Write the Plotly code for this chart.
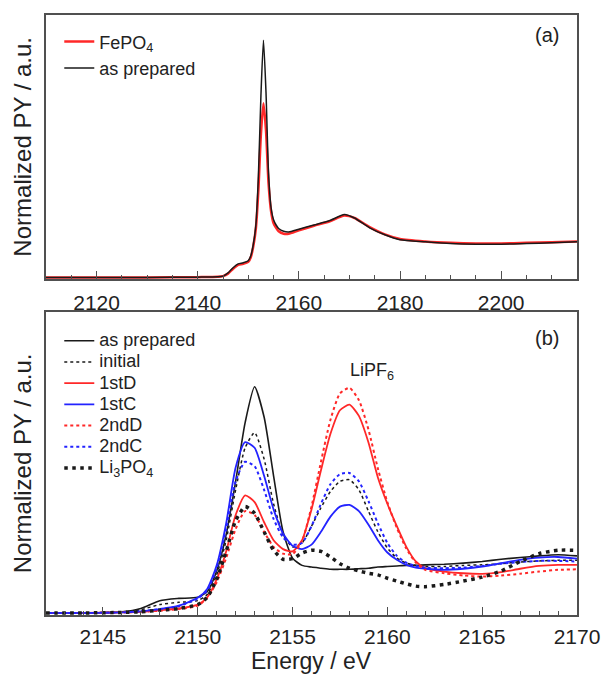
import plotly.graph_objects as go

# ---------------- Panel (a) data ----------------
energy_a = [2110, 2120, 2130, 2140, 2144, 2145, 2146, 2147, 2148, 2149, 2150, 2150.5,
            2151, 2151.5, 2152, 2152.5, 2153, 2153.5, 2154, 2154.5, 2155, 2155.5, 2156,
            2157, 2158, 2160, 2163, 2166, 2169, 2171, 2174, 2177, 2180, 2185, 2190, 2195,
            2200, 2205, 2210, 2215]
fepo4_a = [0.0, 0.0, 0.0, 0.01, 0.02, 0.04, 0.11, 0.25, 0.36, 0.39, 0.45, 0.58,
           0.90, 1.40, 2.50, 4.10, 4.98, 4.20, 2.70, 1.90, 1.55, 1.42, 1.32,
           1.25, 1.25, 1.35, 1.48, 1.60, 1.77, 1.70, 1.44, 1.23, 1.10, 1.03, 0.99, 0.97,
           0.97, 0.99, 1.01, 1.03]
prepared_a = [0.0, 0.0, 0.0, 0.01, 0.02, 0.04, 0.13, 0.28, 0.39, 0.42, 0.48, 0.62,
              0.95, 1.50, 2.90, 5.20, 6.78, 5.30, 3.00, 2.00, 1.65, 1.50, 1.40,
              1.32, 1.30, 1.38, 1.50, 1.62, 1.80, 1.70, 1.42, 1.22, 1.08, 1.02, 0.97, 0.95,
              0.95, 0.97, 0.99, 1.02]

# ---------------- Panel (b) data ----------------
energy_b = [2142, 2144, 2146, 2147, 2148, 2149, 2150, 2150.5, 2151, 2151.5, 2152, 2152.5,
            2153, 2153.5, 2154, 2154.5, 2155, 2155.5, 2156, 2156.5, 2157, 2157.5, 2158,
            2158.5, 2159, 2159.5, 2160, 2160.5, 2161, 2161.5, 2162, 2163, 2164, 2165,
            2166, 2167, 2168, 2169, 2170]
as_prepared = [0.0, 0.0, 0.02, 0.08, 0.22, 0.26, 0.28, 0.38, 0.75, 1.40, 2.35, 3.40,
               4.04, 3.50, 2.45, 1.45, 0.98, 0.85, 0.82, 0.80, 0.78, 0.78, 0.78,
               0.79, 0.80, 0.82, 0.83, 0.84, 0.85, 0.85, 0.86, 0.87, 0.89, 0.92,
               0.96, 0.99, 1.02, 1.04, 1.02]
initial = [0.0, 0.0, 0.02, 0.06, 0.15, 0.19, 0.22, 0.33, 0.68, 1.30, 2.20, 2.95,
           3.22, 2.75, 1.95, 1.40, 1.18, 1.25, 1.55, 1.88, 2.17, 2.35, 2.38,
           2.20, 1.82, 1.45, 1.16, 0.98, 0.89, 0.85, 0.83, 0.83, 0.85, 0.86,
           0.88, 0.91, 0.93, 0.94, 0.94]
first_d = [0.0, 0.0, 0.01, 0.02, 0.05, 0.08, 0.15, 0.28, 0.60, 1.10, 1.75, 2.10,
           1.98, 1.62, 1.30, 1.14, 1.10, 1.30, 1.85, 2.55, 3.20, 3.62, 3.72,
           3.52, 3.05, 2.42, 1.95, 1.55, 1.18, 0.92, 0.80, 0.74, 0.71, 0.70,
           0.73, 0.79, 0.84, 0.86, 0.86]
first_c = [0.0, 0.0, 0.01, 0.03, 0.07, 0.13, 0.27, 0.43, 0.85, 1.60, 2.60, 3.05,
           2.95, 2.45, 1.85, 1.42, 1.20, 1.14, 1.22, 1.45, 1.72, 1.90, 1.93,
           1.82, 1.58, 1.30, 1.08, 0.95, 0.86, 0.81, 0.79, 0.77, 0.79, 0.83,
           0.89, 0.95, 0.99, 1.00, 0.97]
second_d = [0.0, 0.0, 0.01, 0.02, 0.04, 0.07, 0.13, 0.27, 0.55, 0.98, 1.50, 1.82,
            1.75, 1.45, 1.18, 1.06, 1.05, 1.28, 1.90, 2.70, 3.45, 3.92, 4.02,
            3.80, 3.28, 2.58, 1.98, 1.52, 1.15, 0.90, 0.77, 0.71, 0.67, 0.65,
            0.67, 0.70, 0.74, 0.77, 0.78]
second_c = [0.0, 0.0, 0.01, 0.03, 0.07, 0.12, 0.26, 0.40, 0.80, 1.50, 2.35, 2.70,
            2.62, 2.20, 1.68, 1.35, 1.22, 1.25, 1.55, 1.95, 2.30, 2.48, 2.50,
            2.35, 2.00, 1.60, 1.25, 1.02, 0.90, 0.84, 0.81, 0.80, 0.81, 0.84,
            0.88, 0.91, 0.93, 0.93, 0.92]
li3po4 = [0.0, 0.0, 0.01, 0.02, 0.05, 0.08, 0.15, 0.28, 0.60, 1.10, 1.65, 1.90,
          1.78, 1.45, 1.12, 0.96, 0.97, 1.07, 1.12, 1.10, 1.00, 0.88, 0.80,
          0.75, 0.71, 0.68, 0.62, 0.57, 0.52, 0.48, 0.47, 0.51, 0.57, 0.64,
          0.75, 0.92, 1.06, 1.12, 1.12]

RED = "#ff2828"
BLUE = "#2323ff"
BLACK = "#1a1a1a"
FRAME = "#505050"
FONT = "Liberation Sans, Arial, sans-serif"

fig = go.Figure()

# panel (a)
fig.add_trace(go.Scatter(x=energy_a, y=fepo4_a, mode="lines", name="FePO<sub>4</sub>",
                         line=dict(color=RED, width=2.5, shape="spline", smoothing=0.6),
                         xaxis="x", yaxis="y", legend="legend"))
fig.add_trace(go.Scatter(x=energy_a, y=prepared_a, mode="lines", name="as prepared",
                         line=dict(color=BLACK, width=1.5, shape="spline", smoothing=0.6),
                         xaxis="x", yaxis="y", legend="legend"))

# panel (b)
def big(t):
    return "<span style='font-size:18px'>" + t + "</span>"

series_b = [
    ("as prepared", as_prepared, BLACK, 1.6, "solid"),
    ("initial", initial, BLACK, 1.5, "dot"),
    ("1stD", first_d, RED, 1.8, "solid"),
    ("1stC", first_c, BLUE, 1.8, "solid"),
    ("2ndD", second_d, RED, 2.0, "dot"),
    ("2ndC", second_c, BLUE, 2.0, "dot"),
    ("Li<sub>3</sub>PO<sub>4</sub>", li3po4, BLACK, 3.5, "3.5px,4.5px"),
]
for name, vals, col, w, dash in series_b:
    fig.add_trace(go.Scatter(x=energy_b, y=vals, mode="lines", name=big(name),
                             line=dict(color=col, width=w, dash=dash, shape="spline", smoothing=0.6),
                             xaxis="x2", yaxis="y2", legend="legend2"))

axis_common = dict(showline=True, mirror=True, linecolor=FRAME, linewidth=1.5,
                   showgrid=False, zeroline=False, automargin=False)

fig.update_layout(
    template="none",
    width=604, height=683,
    margin=dict(l=46, r=27, t=15, b=68, autoexpand=False),
    paper_bgcolor="white", plot_bgcolor="white",
    font=dict(family=FONT, color="#222222"),
    xaxis=dict(domain=[0, 1], anchor="y", range=[2110, 2215], tickmode="linear",
               tick0=2120, dtick=20, ticks="inside", ticklen=8, tickwidth=1.2, tickcolor=FRAME,
               minor=dict(tick0=2110, dtick=5, ticks="inside", ticklen=4, tickwidth=1.2, tickcolor=FRAME),
               tickfont=dict(size=21), ticklabelstandoff=4, **axis_common),
    yaxis=dict(domain=[0.56, 1], anchor="x", range=[-0.043, 7.5], showticklabels=False,
               ticks="", **axis_common),
    xaxis2=dict(domain=[0, 1], anchor="y2", range=[2142, 2170], tickmode="linear",
                tick0=2145, dtick=5, ticks="inside", ticklen=8, tickwidth=1.2, tickcolor=FRAME,
                minor=dict(tick0=2142, dtick=1, ticks="inside", ticklen=4, tickwidth=1.2, tickcolor=FRAME),
                tickfont=dict(size=21), ticklabelstandoff=2, **axis_common),
    yaxis2=dict(domain=[0, 0.505], anchor="x2", range=[-0.036, 5.375], showticklabels=False,
                ticks="", **axis_common),
    legend=dict(x=0.025, y=0.986, xanchor="left", yanchor="top", bgcolor="rgba(0,0,0,0)",
                font=dict(size=18), traceorder="normal", tracegroupgap=0),
    legend2=dict(x=0.025, y=0.483, xanchor="left", yanchor="top", bgcolor="rgba(0,0,0,0)",
                 font=dict(size=14), traceorder="normal", tracegroupgap=0),
    showlegend=True,
)

annotations = [
    dict(text="(a)", xref="x domain", yref="y domain", x=0.943, y=0.924,
         showarrow=False, font=dict(size=20), xanchor="center", yanchor="middle"),
    dict(text="(b)", xref="x2 domain", yref="y2 domain", x=0.943, y=0.914,
         showarrow=False, font=dict(size=20), xanchor="center", yanchor="middle"),
    dict(text="LiPF<sub>6</sub>", xref="x2", yref="y2", x=2159.2, y=4.32,
         showarrow=False, font=dict(size=18), xanchor="center", yanchor="middle"),
    dict(text="Normalized PY / a.u.", xref="paper", yref="y domain", x=-0.044, y=0.5,
         textangle=-90, showarrow=False, font=dict(size=24), xanchor="center", yanchor="middle"),
    dict(text="Normalized PY / a.u.", xref="paper", yref="y2 domain", x=-0.044, y=0.5,
         textangle=-90, showarrow=False, font=dict(size=24), xanchor="center", yanchor="middle"),
    dict(text="Energy / eV", xref="paper", yref="paper", x=0.5, y=-0.076,
         showarrow=False, font=dict(size=23), xanchor="center", yanchor="middle"),
]
fig.update_layout(annotations=annotations)

fig.write_html("out.html", config={"displayModeBar": False},
               post_script="document.body.style.margin='0px';")
